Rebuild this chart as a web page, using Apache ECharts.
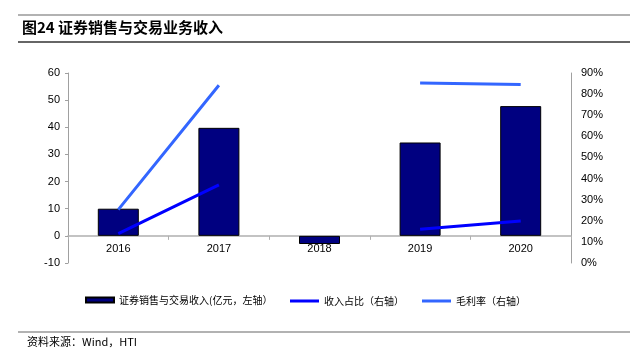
<!DOCTYPE html>
<html><head><meta charset="utf-8">
<script src="https://cdn.jsdelivr.net/npm/echarts@6/dist/echarts.min.js"></script>
<style>html,body{margin:0;padding:0;background:#fff}#c{width:643px;height:356px}</style>
</head><body><div id="c"></div>
<script>
var categories = ['2016','2017','2018','2019','2020'];
var revenue = [10.0, 39.8, -3.0, 34.4, 47.8];
var revenueShare = [13.9, 37.0, null, 16.0, 19.9];
var grossMargin = [25.3, 84.2, null, 85.3, 84.5];
var leftTicks = {min: -10, max: 60, interval: 10};
var rightTicks = {min: 0, max: 90, interval: 10};
var names = ['证券销售与交易收入(亿元，左轴）', '收入占比（右轴）', '毛利率（右轴）'];

var chart = echarts.init(document.getElementById('c'), null, {renderer: 'canvas'});
var axisFont = {fontFamily: 'Liberation Sans, Arial, sans-serif', fontSize: 11, color: '#000'};
var legendText = {fontFamily: 'Noto Sans CJK SC', fontSize: 10, color: '#000'};
var gridTop = 73, gridBottom = 93, chartH = 356;
var plotH = chartH - gridTop - gridBottom;
var zeroOffset = -plotH * (0 - leftTicks.min) / (leftTicks.max - leftTicks.min);
chart.setOption({
  animation: false,
  grid: {left: 68, right: 72, top: gridTop, bottom: gridBottom},
  graphic: [
    {type: 'line', shape: {x1: 18, y1: 15, x2: 630, y2: 15}, style: {stroke: '#999', lineWidth: 1.5}},
    {type: 'line', shape: {x1: 18, y1: 42, x2: 630, y2: 42}, style: {stroke: '#333', lineWidth: 1.5}},
    {type: 'text', left: 22, top: 20, style: {text: '图24 证券销售与交易业务收入', font: 'bold 15px "Noto Sans CJK SC"', fill: '#000'}},
    {type: 'line', shape: {x1: 18, y1: 332, x2: 630, y2: 332}, style: {stroke: '#999', lineWidth: 1.5}},
    {type: 'text', left: 27, top: 336, style: {text: '资料来源：Wind，HTI', font: '11px "Noto Sans CJK SC"', fill: '#000'}}
  ],
  legend: [
    {data: [names[0]], left: 80, top: 290, itemWidth: 28, itemHeight: 5, textStyle: legendText, icon: 'rect'},
    {data: [names[1]], left: 285, top: 291, itemWidth: 29, itemHeight: 3, textStyle: legendText, icon: 'rect'},
    {data: [names[2]], left: 417, top: 291, itemWidth: 29, itemHeight: 3, textStyle: legendText, icon: 'rect'}
  ],
  xAxis: {
    type: 'category', data: categories, boundaryGap: true, offset: zeroOffset,
    axisLine: {onZero: false, lineStyle: {color: '#b0b0b0', width: 1.5}},
    axisTick: {show: true, length: 4, lineStyle: {color: '#b0b0b0'}},
    axisLabel: Object.assign({margin: 8}, axisFont)
  },
  yAxis: [
    {type: 'value', min: leftTicks.min, max: leftTicks.max, interval: leftTicks.interval,
     splitLine: {show: false},
     axisLine: {show: true, lineStyle: {color: '#a0a0a0'}},
     axisTick: {show: true, length: 3, lineStyle: {color: '#a0a0a0'}},
     axisLabel: Object.assign({margin: 8}, axisFont)},
    {type: 'value', min: rightTicks.min, max: rightTicks.max, interval: rightTicks.interval,
     position: 'right', splitLine: {show: false},
     axisLine: {show: true, lineStyle: {color: '#a0a0a0'}},
     axisTick: {show: false},
     axisLabel: Object.assign({margin: 10, formatter: '{value}%'}, axisFont)}
  ],
  series: [
    {name: names[0], type: 'bar', data: revenue, yAxisIndex: 0, barWidth: 41,
     itemStyle: {color: '#000080', borderColor: '#000', borderWidth: 1}},
    {name: names[1], type: 'line', data: revenueShare, yAxisIndex: 1, symbol: 'none', connectNulls: false,
     lineStyle: {color: '#0000ff', width: 3}, itemStyle: {color: '#0000ff'}},
    {name: names[2], type: 'line', data: grossMargin, yAxisIndex: 1, symbol: 'none', connectNulls: false,
     lineStyle: {color: '#3366ff', width: 3}, itemStyle: {color: '#3366ff'}}
  ]
});
</script></body></html>
